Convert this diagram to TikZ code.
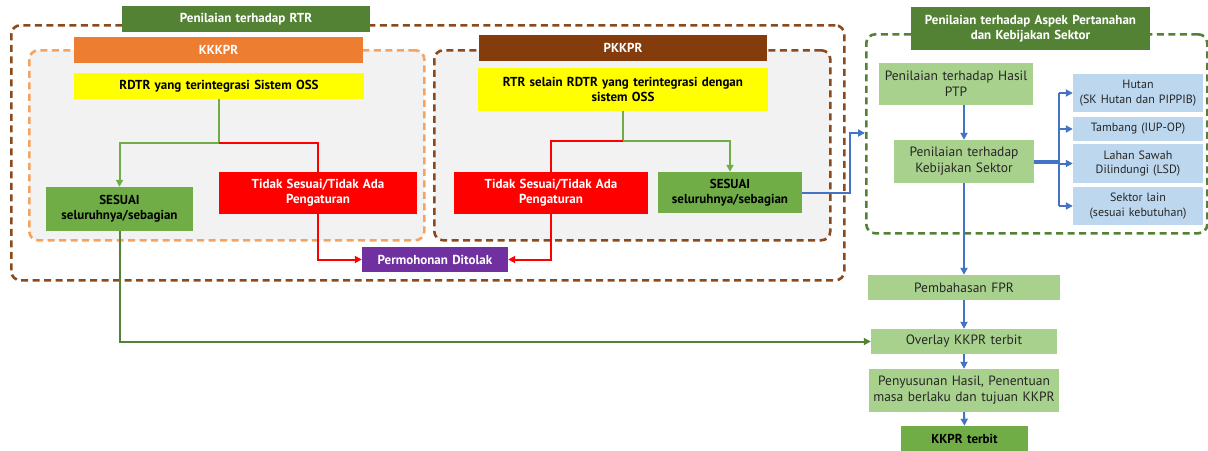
\documentclass[tikz,border=0pt]{standalone}
\usepackage{fontspec}
\setmainfont{PT Sans}
\usetikzlibrary{arrows.meta,positioning,calc}
\definecolor{cTitle}{HTML}{548235}
\definecolor{cOrange}{HTML}{ED7D31}
\definecolor{cOrDash}{HTML}{F4A460}
\definecolor{cBrown}{HTML}{843C0C}
\definecolor{cBrDash}{HTML}{8B4A1C}
\definecolor{cYellow}{HTML}{FFFF00}
\definecolor{cGreen}{HTML}{70AD47}
\definecolor{cRed}{HTML}{FF0000}
\definecolor{cPurple}{HTML}{7030A0}
\definecolor{cLGreen}{HTML}{A9D18E}
\definecolor{cLBlue}{HTML}{BDD7EE}
\definecolor{cGray}{HTML}{F2F2F2}
\definecolor{cBlue}{HTML}{4472C4}
\definecolor{cDText}{HTML}{262626}
\tikzset{
  bx/.style={rectangle, inner sep=1pt, align=center, text width=#1-2pt, minimum width=#1},
  hdr/.style={font=\bfseries\fontsize{13}{15}\selectfont, text=white},
  dk/.style={font=\bfseries\fontsize{13}{15}\selectfont, text=black},
  rg/.style={font=\fontsize{13.5}{16}\selectfont, text=cDText},
  sm/.style={font=\fontsize{12}{14.5}\selectfont, text=cDText},
  dbox/.style={draw, line width=2.6pt, dash pattern=on 7pt off 4.5pt, rounded corners=9pt},
  arr/.style={-{Triangle[length=7pt,width=7pt]}},
  gline/.style={draw=cGreen, line width=2pt},
  rline/.style={draw=cRed, line width=2pt},
  bline/.style={draw=cBlue, line width=2pt},
  dgline/.style={draw=cTitle, line width=2pt},
}
\begin{document}
\begin{tikzpicture}[x=1pt,y=-1pt]
\useasboundingbox (0,0) rectangle (1208,450);
\fill[white] (0,0) rectangle (1208,450);
% dashed containers
\node[dbox, draw=cBrDash, minimum width=833, minimum height=255, anchor=north west] (outer) at (10,24) {};
\node[dbox, draw=cOrDash, fill=cGray, minimum width=395, minimum height=190, anchor=north west] (kbox) at (28,49) {};
\node[dbox, draw=cBrDash, fill=cGray, minimum width=396, minimum height=190, anchor=north west] (pbox) at (433,49) {};
\node[dbox, draw=cTitle, minimum width=341, minimum height=199, anchor=north west] (gbox) at (865,33) {};
% titles
\node[bx=248, minimum height=26, fill=cTitle, hdr] (tRTR) at (246,19) {Penilaian terhadap RTR};
\node[bx=289, minimum height=26, fill=cOrange, hdr] (kkkpr) at (218.5,50) {KKKPR};
\node[bx=288, minimum height=26, fill=cBrown, hdr] (pkkpr) at (623,48) {PKKPR};
\node[bx=239, minimum height=43, fill=cTitle, hdr] (tAsp) at (1030.5,28.5) {Penilaian terhadap Aspek Pertanahan\\dan Kebijakan Sektor};
% left part
\node[bx=290, minimum height=26, fill=cYellow, dk] (y1) at (219,86) {RDTR yang terintegrasi Sistem OSS};
\node[bx=147, minimum height=44, fill=cGreen, dk] (s1) at (119.5,209) {SESUAI\\seluruhnya/sebagian};
\node[bx=198, minimum height=42, fill=cRed, hdr] (r1) at (318,193) {Tidak Sesuai/Tidak Ada\\Pengaturan};
\node[bx=146, minimum height=25, fill=cPurple, hdr] (tol) at (435,259.5) {Permohonan Ditolak};
\node[bx=290, minimum height=43, fill=cYellow, dk] (y2) at (623,89.5) {RTR selain RDTR yang terintegrasi dengan\\sistem OSS};
\node[bx=194, minimum height=42, fill=cRed, hdr] (r2) at (551,193) {Tidak Sesuai/Tidak Ada\\Pengaturan};
\node[bx=144, minimum height=41, fill=cGreen, dk] (s2) at (730,192.5) {SESUAI\\seluruhnya/sebagian};
% right part
\node[bx=154, minimum height=42, fill=cLGreen, rg] (ptp) at (956,84) {Penilaian terhadap Hasil\\PTP};
\node[bx=140, minimum height=43, fill=cLGreen, rg] (keb) at (964,161.5) {Penilaian terhadap\\Kebijakan Sektor};
\node[bx=130, minimum height=38, fill=cLBlue, sm] (hut) at (1138,93) {Hutan\\(SK Hutan dan PIPPIB)};
\node[bx=130, minimum height=24, fill=cLBlue, sm] (tam) at (1138,129) {Tambang (IUP-OP)};
\node[bx=130, minimum height=39, fill=cLBlue, sm] (lsd) at (1138,163.5) {Lahan Sawah\\Dilindungi (LSD)};
\node[bx=130, minimum height=38, fill=cLBlue, sm] (sek) at (1138,206) {Sektor lain\\(sesuai kebutuhan)};
\node[bx=192, minimum height=25, fill=cLGreen, rg] (fpr) at (964,287.5) {Pembahasan FPR};
\node[bx=186, minimum height=25, fill=cLGreen, rg] (ovl) at (964,341.5) {Overlay KKPR terbit};
\node[bx=190, minimum height=43, fill=cLGreen, rg] (pen) at (964,390.5) {Penyusunan Hasil, Penentuan\\masa berlaku dan tujuan KKPR};
\node[bx=127, minimum height=26, fill=cGreen, dk] (kt) at (964.5,439) {KKPR terbit};
% connectors left
\coordinate (j1) at (219,143);
\draw[gline] (y1.south) -- (j1);
\draw[gline, arr] (j1) -| (s1.north);
\draw[rline] (j1) -| (r1.north);
\draw[rline, arr] (r1.south) |- (tol.west);
\coordinate (j2) at (623,141);
\draw[gline] (y2.south) -- (j2);
\draw[gline, arr] (j2) -| (s2.north);
\draw[rline] (j2) -| (r2.north);
\draw[rline, arr] (r2.south) |- (tol.east);
\draw[bline, arr] (s2.east) -- (850,192.5) |- (gbox.west |- 0,133);
\draw[dgline, arr] (s1.south) |- (ovl.west);
% connectors right
\draw[bline, arr] (keb.north |- ptp.south) -- (keb.north);
\coordinate (bus) at (1059,161.5);
\draw[cBlue, line width=4pt] (keb.east) -- (bus);
\draw[bline] (1059,93) -- (1059,206);
\foreach \n in {hut,tam,lsd,sek}{
  \draw[bline, arr] (bus |- \n.west) -- (\n.west);
}
\draw[bline, arr] (keb.south) -- (fpr.north);
\draw[bline, arr] (fpr.south) -- (ovl.north);
\draw[bline, arr] (ovl.south) -- (pen.north);
\draw[bline, arr] (pen.south) -- (kt.north);
\end{tikzpicture}
\end{document}
